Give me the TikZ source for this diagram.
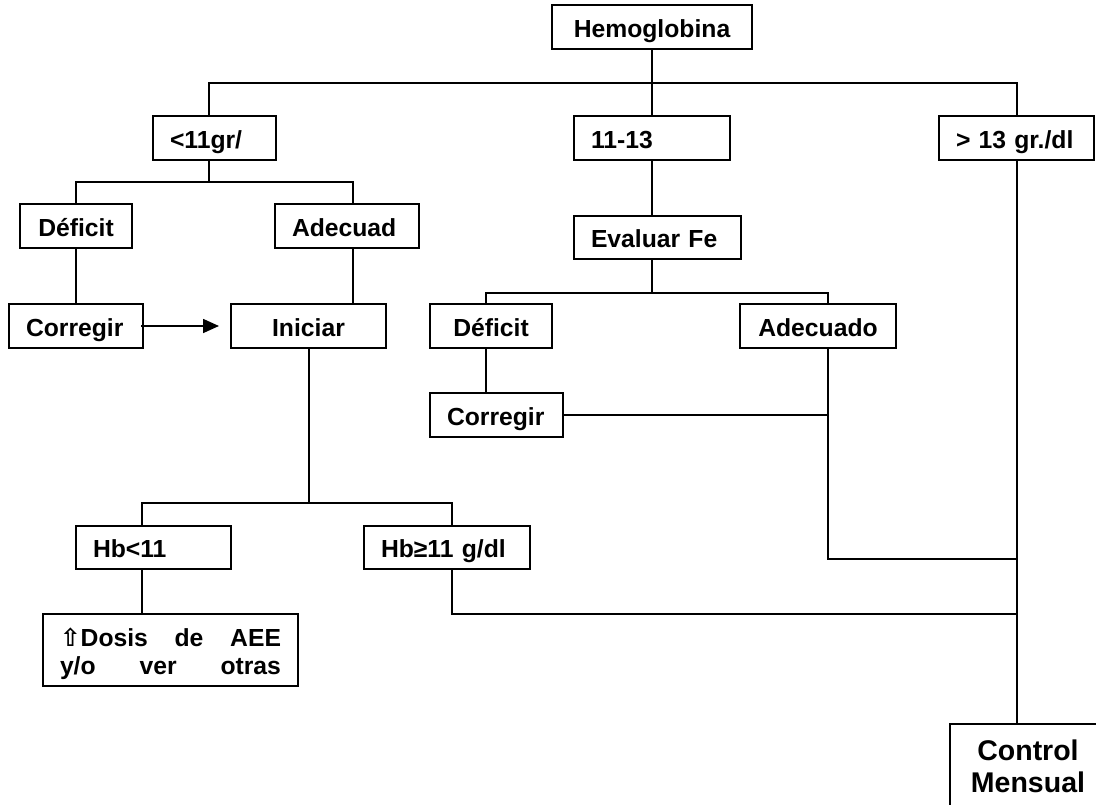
\documentclass[tikz,border=0pt]{standalone}
\usepackage{fontspec}
\setmainfont{Liberation Sans}
\newfontfamily\dejavu{DejaVu Sans}
\usetikzlibrary{arrows.meta}
\tikzset{
  ln/.style={line width=1.7pt},
  bx/.style={draw, line width=1.7pt, rectangle, inner ysep=0pt, outer sep=0pt,
    text height=20pt, text depth=0pt,
    font=\bfseries\fontsize{24.7}{28}\selectfont},
  cbx/.style={bx, inner xsep=0pt, align=center},
  lbx/.style={bx, inner xsep=17pt, align=left},
}
\begin{document}
\begin{tikzpicture}[x=1pt,y=-1pt]
\useasboundingbox (0,0) rectangle (1096,804);
\clip (0,0) rectangle (1096,804);
% boxes
\node[cbx, minimum width=200pt, minimum height=44pt] (hem) at (652,27) {Hemoglobina};
\node[lbx, minimum width=123pt, minimum height=44pt, text width=89pt] (lt11) at (214.5,138) {<11gr/};
\node[lbx, minimum width=156pt, minimum height=44pt, text width=122pt] (mid) at (652,138) {11-13};
\node[lbx, minimum width=155pt, minimum height=44pt, text width=121pt] (gt13) at (1016.5,138) {> 13 gr./dl};
\node[cbx, minimum width=112pt, minimum height=44pt] (def1) at (76,226) {Déficit};
\node[lbx, minimum width=144pt, minimum height=44pt, text width=110pt] (ade1) at (347,226) {Adecuad};
\node[lbx, minimum width=167pt, minimum height=43pt, text width=133pt] (evfe) at (657.5,237.5) {Evaluar Fe};
\node[lbx, minimum width=134pt, minimum height=44pt, text width=100pt] (cor1) at (76,326) {Corregir};
\node[cbx, minimum width=155pt, minimum height=44pt] (ini) at (308.5,326) {Iniciar};
\node[cbx, minimum width=122pt, minimum height=44pt] (def2) at (491,326) {Déficit};
\node[cbx, minimum width=156pt, minimum height=44pt] (ade2) at (818,326) {Adecuado};
\node[lbx, minimum width=133pt, minimum height=44pt, text width=99pt] (cor2) at (496.5,415) {Corregir};
\node[lbx, minimum width=155pt, minimum height=43pt, text width=121pt] (hblt) at (153.5,547.5) {Hb<11};
\node[lbx, minimum width=166pt, minimum height=43pt, text width=132pt] (hbge) at (447,547.5) {Hb≥11 g/dl};
\node[lbx, minimum width=255pt, minimum height=72pt, text width=221pt, text height=0pt, text depth=8pt] (dosis) at (170.5,650)
  {\hbox to 221pt{{\dejavu\bfseries ⇧}Dosis\hfill de\hfill AEE}\\\hbox to 221pt{y/o\hfill ver\hfill otras}};
\node[cbx, minimum width=156pt, minimum height=106pt, text width=156pt, text height=0pt, text depth=34pt,
  font=\bfseries\fontsize{28.5}{32}\selectfont] (ctrl) at (1028,777) {Control\\Mensual};
% junctions
\coordinate (j0) at (652,83);
\coordinate (j1) at (209,182);
\coordinate (j2) at (309,503);
\coordinate (j3) at (652,293);
\coordinate (j4) at (1017,559);
\coordinate (j5) at (1017,614);
\coordinate (j6) at (828,415);
% connectors
\draw[ln] (hem.south) -- (j0);
\draw[ln] (j0) -- (mid.north);
\draw[ln] (j0) -| ([xshift=-5.5pt]lt11.north);
\draw[ln] (j0) -| ([xshift=0.5pt]gt13.north);
\draw[ln] ([xshift=-5.5pt]lt11.south) -- (j1);
\draw[ln] (j1) -| (def1.north);
\draw[ln] (j1) -| ([xshift=6pt]ade1.north);
\draw[ln] (def1.south) -- (cor1.north);
\draw[ln, -{Triangle[length=16pt,width=14pt]}, shorten >=12pt] ([xshift=-2pt]cor1.east) -- (ini.west);
\draw[ln] ([xshift=6pt]ade1.south) -- ([xshift=44.5pt]ini.north);
\draw[ln] ([xshift=0.5pt]ini.south) -- (j2);
\draw[ln] (j2) -| ([xshift=-11.5pt]hblt.north);
\draw[ln] (j2) -| ([xshift=5pt]hbge.north);
\draw[ln] ([xshift=-11.5pt]hblt.south) -- ([xshift=-28.5pt]dosis.north);
\draw[ln] ([xshift=5pt]hbge.south) |- (j5);
\draw[ln] (mid.south) -- ([xshift=-5.5pt]evfe.north);
\draw[ln] ([xshift=-5.5pt]evfe.south) -- (j3);
\draw[ln] (j3) -| ([xshift=-5pt]def2.north);
\draw[ln] (j3) -| ([xshift=10pt]ade2.north);
\draw[ln] ([xshift=-5pt]def2.south) -- ([xshift=-10.5pt]cor2.north);
\draw[ln] (cor2.east) -- (j6);
\draw[ln] ([xshift=10pt]ade2.south) |- (j4);
\draw[ln] ([xshift=0.5pt]gt13.south) -- ([xshift=-11pt]ctrl.north);
\end{tikzpicture}
\end{document}
